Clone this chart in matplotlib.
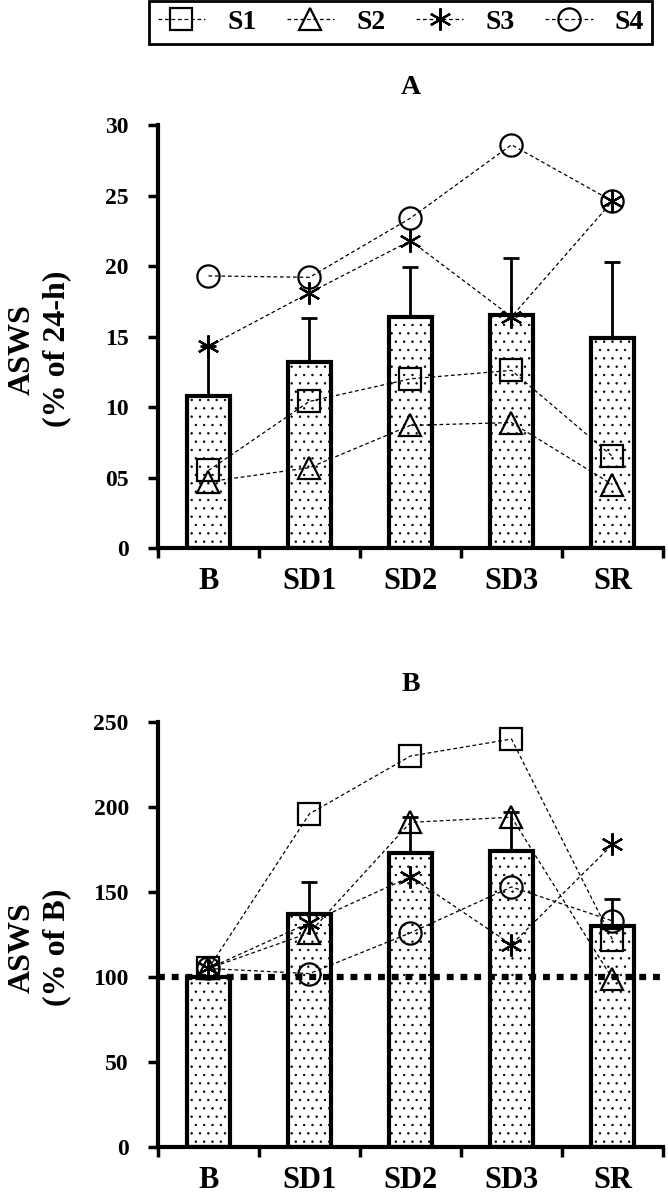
import matplotlib
matplotlib.use("Agg")
import matplotlib.pyplot as plt
from matplotlib.lines import Line2D
import numpy as np

plt.rcParams["font.family"] = ["Liberation Serif", "DejaVu Serif"]
plt.rcParams["font.weight"] = "bold"
plt.rcParams["hatch.linewidth"] = 0.5

categories = ["B", "SD1", "SD2", "SD3", "SR"]
series_names = ["S1", "S2", "S3", "S4"]

# panel A: ASWS as % of 24-h
mean_a = [10.8, 13.2, 16.4, 16.5, 14.9]
err_a = [3.5, 3.1, 3.5, 4.1, 5.4]
s1_a = [5.5, 10.4, 12.0, 12.6, 6.5]
s2_a = [4.7, 5.7, 8.7, 8.9, 4.5]
s3_a = [14.3, 18.1, 21.8, 16.4, 24.6]
s4_a = [19.3, 19.2, 23.4, 28.6, 24.6]
yticks_a = [0, 5, 10, 15, 20, 25, 30]
ylabels_a = ["0", "05", "10", "15", "20", "25", "30"]

# panel B: ASWS as % of B
mean_b = [100, 137, 173, 174, 130]
err_b = [0, 19, 21, 23, 16]
s1_b = [105, 196, 230, 240, 122]
s2_b = [105, 126, 191, 194, 99]
s3_b = [105, 132, 159, 119, 178]
s4_b = [105, 102, 126, 153, 133]
yticks_b = [0, 50, 100, 150, 200, 250]
ylabels_b = ["0", "50", "100", "150", "200", "250"]

markers = ["s", "^", (6, 2, 0), "o"]
line_kw = dict(color="black", lw=0.9, ls=(0, (3, 2.2)), ms=16,
               mfc="none", mec="black", mew=1.6, zorder=5)


def draw_panel(ax, means, errs, series, yticks, ylabels, ylabel, title):
    x = np.arange(len(categories))
    ax.bar(x, means, width=0.43, color="white", edgecolor="black",
           linewidth=3, hatch="..", zorder=2)
    ax.errorbar(x, means, yerr=[np.zeros(len(errs)), errs], fmt="none",
                ecolor="black", elinewidth=2, capsize=6, capthick=2, zorder=3)
    for vals, m in zip(series, markers):
        ax.plot(x, vals, marker=m, **line_kw)

    ax.set_xlim(-0.5, 4.5)
    ax.set_ylim(yticks[0], yticks[-1])
    ax.set_xticks(x)
    ax.set_xticklabels(categories, fontsize=22, fontweight="bold")
    ax.set_xticks(np.arange(-0.5, 5, 1), minor=True)
    ax.tick_params(axis="x", which="major", length=0, pad=14)
    ax.tick_params(axis="x", which="minor", length=7, width=2.5,
                   direction="out")
    ax.set_yticks(yticks)
    ax.set_yticklabels(ylabels, fontsize=17, fontweight="bold")
    ax.tick_params(axis="y", length=7, width=2.5, direction="out", pad=14)

    for side in ("top", "right"):
        ax.spines[side].set_visible(False)
    for side in ("left", "bottom"):
        ax.spines[side].set_linewidth(3)

    ax.set_ylabel(ylabel, fontsize=23, fontweight="bold",
                  multialignment="center", linespacing=1.25)
    ax.yaxis.set_label_coords(-0.172, 0.47)
    ax.set_title(title, fontsize=20, fontweight="bold", pad=22)


fig = plt.figure(figsize=(6.68, 12), dpi=100)
ax_a = fig.add_axes([0.2365, 0.5433, 0.7560, 0.3525])
ax_b = fig.add_axes([0.2365, 0.0442, 0.7560, 0.3541])

draw_panel(ax_a, mean_a, err_a, [s1_a, s2_a, s3_a, s4_a],
           yticks_a, ylabels_a, "ASWS\n(% of 24-h)", "A")
draw_panel(ax_b, mean_b, err_b, [s1_b, s2_b, s3_b, s4_b],
           yticks_b, ylabels_b, "ASWS\n(% of B)", "B")
ax_b.axhline(100, color="black", lw=4.5, ls=(0, (1.1, 1.1)), zorder=4)

handles = [Line2D([], [], marker=m, **line_kw) for m in markers]
leg = fig.legend(handles, series_names, loc="upper center",
                 bbox_to_anchor=(0.6, 1.0), ncol=4, frameon=True,
                 fancybox=False, edgecolor="black", framealpha=1,
                 handlelength=1.7, columnspacing=1.1, handletextpad=0.8,
                 borderpad=0.3, borderaxespad=0.05,
                 prop=dict(size=20, weight="bold"))
leg.get_frame().set_linewidth(2)

fig.savefig("out.png", dpi=100)
